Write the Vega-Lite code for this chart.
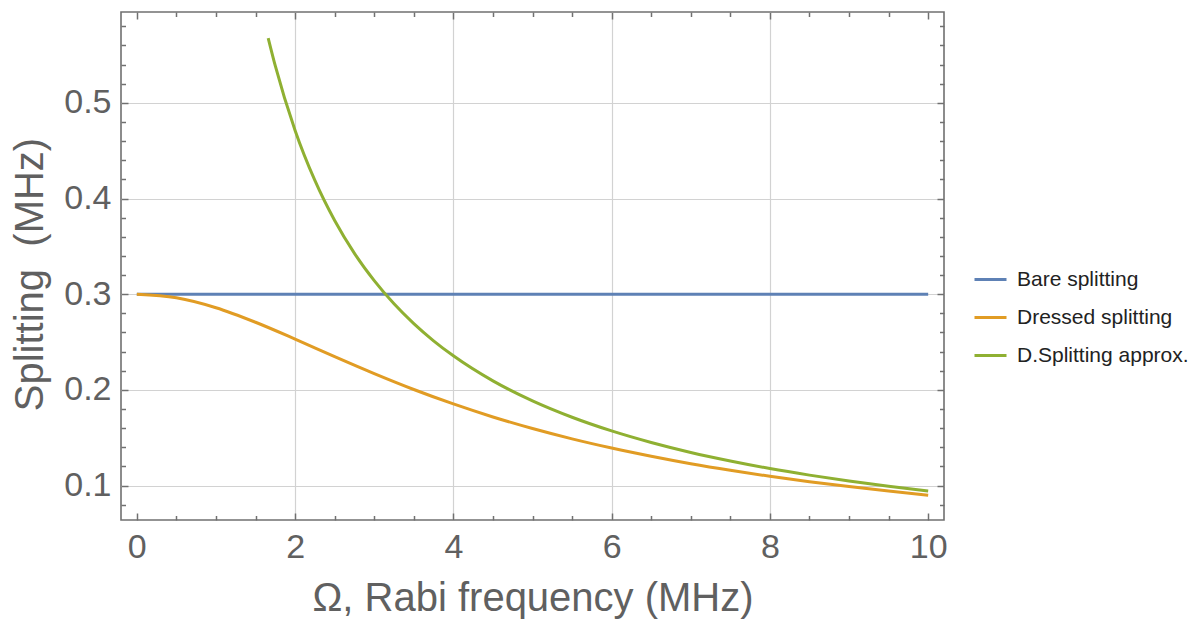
{
  "$schema": "https://vega.github.io/schema/vega-lite/v6.json",
  "autosize": "none",
  "padding": {"left": 121, "top": 12, "right": 256, "bottom": 100},
  "width": 823,
  "height": 508,
  "background": "white",
  "config": {
    "view": {"stroke": "#707070", "strokeWidth": 1.6},
    "axis": {
      "domain": false,
      "labelFont": "Liberation Sans",
      "titleFont": "Liberation Sans",
      "labelColor": "#606060",
      "titleColor": "#606060",
      "tickColor": "#707070",
      "tickWidth": 1.5,
      "gridColor": "#d2d2d2",
      "gridWidth": 1.2,
      "labelFontSize": 34,
      "titleFontSize": 40,
      "titleFontWeight": "normal"
    },
    "legend": {
      "labelFont": "Liberation Sans",
      "labelFontSize": 21,
      "labelColor": "#222222",
      "labelLimit": 400
    }
  },
  "data": {
    "values": [
      {"omega": 0, "splitting": 0.3, "series": "Bare splitting"},
      {"omega": 10, "splitting": 0.3, "series": "Bare splitting"},
      {"omega": 0, "splitting": 0.3, "series": "Dressed splitting"},
      {"omega": 0.5, "splitting": 0.2963, "series": "Dressed splitting"},
      {"omega": 1, "splitting": 0.2859, "series": "Dressed splitting"},
      {"omega": 1.5, "splitting": 0.2707, "series": "Dressed splitting"},
      {"omega": 2, "splitting": 0.2531, "series": "Dressed splitting"},
      {"omega": 2.5, "splitting": 0.2347, "series": "Dressed splitting"},
      {"omega": 3, "splitting": 0.217, "series": "Dressed splitting"},
      {"omega": 3.5, "splitting": 0.2004, "series": "Dressed splitting"},
      {"omega": 4, "splitting": 0.1853, "series": "Dressed splitting"},
      {"omega": 4.5, "splitting": 0.1717, "series": "Dressed splitting"},
      {"omega": 5, "splitting": 0.1596, "series": "Dressed splitting"},
      {"omega": 5.5, "splitting": 0.1488, "series": "Dressed splitting"},
      {"omega": 6, "splitting": 0.1392, "series": "Dressed splitting"},
      {"omega": 6.5, "splitting": 0.1306, "series": "Dressed splitting"},
      {"omega": 7, "splitting": 0.1228, "series": "Dressed splitting"},
      {"omega": 7.5, "splitting": 0.1159, "series": "Dressed splitting"},
      {"omega": 8, "splitting": 0.1097, "series": "Dressed splitting"},
      {"omega": 8.5, "splitting": 0.104, "series": "Dressed splitting"},
      {"omega": 9, "splitting": 0.0989, "series": "Dressed splitting"},
      {"omega": 9.5, "splitting": 0.0942, "series": "Dressed splitting"},
      {"omega": 10, "splitting": 0.0899, "series": "Dressed splitting"},
      {"omega": 1.66, "splitting": 0.5678, "series": "D.Splitting approx."},
      {"omega": 1.75, "splitting": 0.5386, "series": "D.Splitting approx."},
      {"omega": 2, "splitting": 0.4712, "series": "D.Splitting approx."},
      {"omega": 2.25, "splitting": 0.4189, "series": "D.Splitting approx."},
      {"omega": 2.5, "splitting": 0.377, "series": "D.Splitting approx."},
      {"omega": 2.75, "splitting": 0.3427, "series": "D.Splitting approx."},
      {"omega": 3, "splitting": 0.3142, "series": "D.Splitting approx."},
      {"omega": 3.25, "splitting": 0.29, "series": "D.Splitting approx."},
      {"omega": 3.5, "splitting": 0.2693, "series": "D.Splitting approx."},
      {"omega": 3.75, "splitting": 0.2513, "series": "D.Splitting approx."},
      {"omega": 4, "splitting": 0.2356, "series": "D.Splitting approx."},
      {"omega": 4.5, "splitting": 0.2094, "series": "D.Splitting approx."},
      {"omega": 5, "splitting": 0.1885, "series": "D.Splitting approx."},
      {"omega": 5.5, "splitting": 0.1714, "series": "D.Splitting approx."},
      {"omega": 6, "splitting": 0.1571, "series": "D.Splitting approx."},
      {"omega": 6.5, "splitting": 0.145, "series": "D.Splitting approx."},
      {"omega": 7, "splitting": 0.1346, "series": "D.Splitting approx."},
      {"omega": 7.5, "splitting": 0.1257, "series": "D.Splitting approx."},
      {"omega": 8, "splitting": 0.1178, "series": "D.Splitting approx."},
      {"omega": 8.5, "splitting": 0.1109, "series": "D.Splitting approx."},
      {"omega": 9, "splitting": 0.1047, "series": "D.Splitting approx."},
      {"omega": 9.5, "splitting": 0.0992, "series": "D.Splitting approx."},
      {"omega": 10, "splitting": 0.0942, "series": "D.Splitting approx."}
    ]
  },
  "resolve": {"axis": {"x": "independent", "y": "independent"}},
  "layer": [
    {
      "mark": {"type": "line", "strokeWidth": 3, "interpolate": "monotone"},
      "encoding": {
        "x": {
          "field": "omega", "type": "quantitative",
          "scale": {"domain": [-0.2, 10.2], "nice": false, "zero": false},
          "axis": {
            "orient": "bottom",
            "title": "Ω, Rabi frequency (MHz)",
            "values": [0, 2, 4, 6, 8, 10],
            "tickSize": -7,
            "labelPadding": 17,
            "grid": true,
            "gridOpacity": {"condition": {"test": "datum.value > 0.1 && datum.value < 9.9", "value": 1}, "value": 0},
            "titleBaseline": "alphabetic",
            "titleY": 90
          }
        },
        "y": {
          "field": "splitting", "type": "quantitative",
          "scale": {"domain": [0.064, 0.595], "nice": false, "zero": false},
          "axis": {
            "orient": "left",
            "title": "Splitting \u00a0(MHz)",
            "values": [0.1, 0.2, 0.3, 0.4, 0.5],
            "format": ".1f",
            "tickSize": -7,
            "labelPadding": 17,
            "grid": true,
            "titleBaseline": "middle",
            "titleX": -91,
            "titleY": 262
          }
        },
        "color": {
          "field": "series", "type": "nominal",
          "scale": {
            "domain": ["Bare splitting", "Dressed splitting", "D.Splitting approx."],
            "range": ["#5E81B5", "#E19C24", "#8FB032"]
          },
          "legend": {
            "title": null,
            "orient": "none",
            "legendX": 852,
            "legendY": 250,
            "padding": 0,
            "symbolType": "stroke",
            "symbolSize": 1024,
            "symbolStrokeWidth": 2.8,
            "labelOffset": 9,
            "rowPadding": 10
          }
        }
      }
    },
    {
      "mark": {"type": "line", "opacity": 0},
      "encoding": {
        "x": {
          "field": "omega", "type": "quantitative",
          "scale": {"domain": [-0.2, 10.2], "nice": false, "zero": false},
          "axis": {
            "orient": "bottom", "title": null, "labels": false, "grid": false,
            "values": [0.5, 1, 1.5, 2.5, 3, 3.5, 4.5, 5, 5.5, 6.5, 7, 7.5, 8.5, 9, 9.5],
            "tickSize": -4.5
          }
        },
        "y": {
          "field": "splitting", "type": "quantitative",
          "scale": {"domain": [0.064, 0.595], "nice": false, "zero": false},
          "axis": {
            "orient": "left", "title": null, "labels": false, "grid": false,
            "values": [0.08, 0.12, 0.14, 0.16, 0.18, 0.22, 0.24, 0.26, 0.28, 0.32, 0.34, 0.36, 0.38, 0.42, 0.44, 0.46, 0.48, 0.52, 0.54, 0.56, 0.58],
            "tickSize": -4.5
          }
        }
      }
    },
    {
      "mark": {"type": "line", "opacity": 0},
      "encoding": {
        "x": {
          "field": "omega", "type": "quantitative",
          "scale": {"domain": [-0.2, 10.2], "nice": false, "zero": false},
          "axis": {
            "orient": "top", "title": null, "labels": false, "grid": false,
            "values": [0, 2, 4, 6, 8, 10],
            "tickSize": -7
          }
        },
        "y": {
          "field": "splitting", "type": "quantitative",
          "scale": {"domain": [0.064, 0.595], "nice": false, "zero": false},
          "axis": {
            "orient": "right", "title": null, "labels": false, "grid": false,
            "values": [0.1, 0.2, 0.3, 0.4, 0.5],
            "tickSize": -7
          }
        }
      }
    },
    {
      "mark": {"type": "line", "opacity": 0},
      "encoding": {
        "x": {
          "field": "omega", "type": "quantitative",
          "scale": {"domain": [-0.2, 10.2], "nice": false, "zero": false},
          "axis": {
            "orient": "top", "title": null, "labels": false, "grid": false,
            "values": [0.5, 1, 1.5, 2.5, 3, 3.5, 4.5, 5, 5.5, 6.5, 7, 7.5, 8.5, 9, 9.5],
            "tickSize": -4.5
          }
        },
        "y": {
          "field": "splitting", "type": "quantitative",
          "scale": {"domain": [0.064, 0.595], "nice": false, "zero": false},
          "axis": {
            "orient": "right", "title": null, "labels": false, "grid": false,
            "values": [0.08, 0.12, 0.14, 0.16, 0.18, 0.22, 0.24, 0.26, 0.28, 0.32, 0.34, 0.36, 0.38, 0.42, 0.44, 0.46, 0.48, 0.52, 0.54, 0.56, 0.58],
            "tickSize": -4.5
          }
        }
      }
    }
  ]
}
